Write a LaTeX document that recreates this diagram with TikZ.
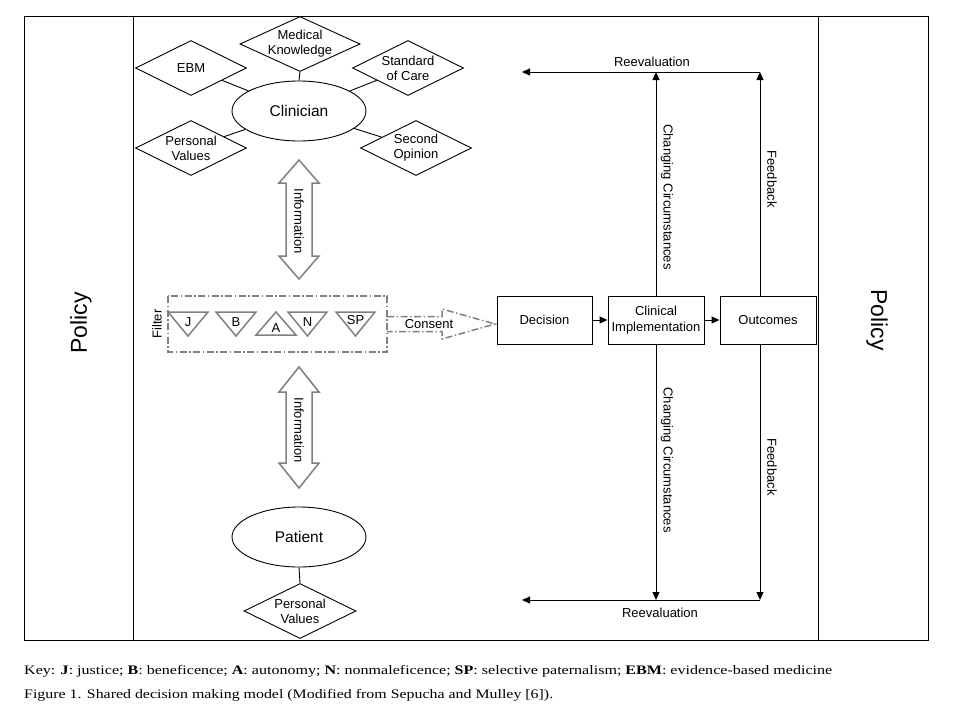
\documentclass[tikz,border=0pt]{standalone}
\usepackage{fontspec}
\setmainfont{Liberation Sans}
\newfontfamily\capfont{Liberation Serif}
\usetikzlibrary{shapes.geometric,arrows.meta}
\definecolor{shade}{HTML}{808080}
\tikzset{
  frame/.style={draw=black,line width=1pt},
  dia/.style={draw=black,line width=0.9pt,diamond,inner sep=0pt,fill=white},
  diatext/.style={font=\fontsize{13}{15}\selectfont,align=center,inner sep=0pt},
  oval/.style={draw=black,line width=0.9pt,ellipse,minimum width=134pt,minimum height=60pt,inner sep=0pt,font=\fontsize{15.5}{18}\selectfont},
  stepbox/.style={draw=black,line width=0.9pt,rectangle,minimum height=48pt,inner sep=0pt,font=\fontsize{13}{15.5}\selectfont,align=center},
  conn/.style={draw=black,line width=0.9pt},
  arr/.style={draw=black,line width=0.9pt,-{Triangle[length=8pt,width=7pt]}},
  lbl/.style={font=\fontsize{13}{15.5}\selectfont,inner sep=0pt},
  infoarrow/.style={draw=shade,line width=1.5pt,fill=white,line join=miter},
  dashdot/.style={draw=shade,line width=1.5pt,dash pattern=on 7pt off 2.5pt on 1.5pt off 2.5pt},
  tri/.style={draw=shade,line width=1.5pt,line join=miter},
}
\begin{document}
\begin{tikzpicture}[x=1pt,y=-1pt]
\useasboundingbox (0,0) rectangle (960,720);
% frame
\draw[frame] (24,16) rectangle (928,640);
\coordinate (lt) at (133,16); \coordinate (lb) at (133,640);
\coordinate (rt) at (818,16); \coordinate (rb) at (818,640);
\draw[frame] (lt) -- (lb);
\draw[frame] (rt) -- (rb);
\node[font=\fontsize{23}{26}\selectfont,rotate=90,inner sep=0pt] (polL) at (81,323) {Policy};
\node[font=\fontsize{23}{26}\selectfont,rotate=-90,inner sep=0pt] (polR) at (877,320) {Policy};

% clinician cluster
\node[oval] (clin) at (299,111) {Clinician};
\node[dia,minimum width=120pt,minimum height=55pt] (mk) at (300,44) {};
\node[dia,minimum width=111pt,minimum height=55pt] (ebm) at (191,68) {};
\node[dia,minimum width=111pt,minimum height=55pt] (soc) at (408,68) {};
\node[dia,minimum width=111pt,minimum height=55pt] (pv) at (191,148) {};
\node[dia,minimum width=111pt,minimum height=55pt] (so) at (416,148) {};
\node[diatext] (mkt) at (mk) {Medical\\Knowledge};
\node[diatext] (ebmt) at (ebm) {EBM};
\node[diatext] (soct) at (soc) {Standard\\of Care};
\node[diatext] (pvt) at (pv) {Personal\\Values};
\node[diatext] (sot) at (so) {Second\\Opinion};
\draw[conn] (mk.south) -- (clin.north);
\draw[conn] (ebm) -- (clin);
\draw[conn] (soc) -- (clin);
\draw[conn] (pv) -- (clin);
\draw[conn] (so) -- (clin);

% information arrows
\draw[infoarrow] (299,160) -- (319,183) -- (312,183) -- (312,256) -- (319,256) -- (299,279)
  -- (279,256) -- (286,256) -- (286,183) -- (279,183) -- cycle;
\node[lbl,rotate=-90] (info1) at (299,221) {Information};
\draw[infoarrow] (299,367) -- (319,392) -- (312,392) -- (312,463) -- (319,463) -- (299,488)
  -- (279,463) -- (286,463) -- (286,392) -- (279,392) -- cycle;
\node[lbl,rotate=-90] (info2) at (299,430) {Information};

% filter
\draw[dashdot] (168,296) rectangle (387,352);
\node[lbl,rotate=90] (filt) at (157,324) {Filter};
\draw[tri] (168,312) -- (208,312) -- (188,336) -- cycle;
\draw[tri] (216,312) -- (256,312) -- (236,336) -- cycle;
\draw[tri] (256,335) -- (296,335) -- (276,312) -- cycle;
\draw[tri] (288,312) -- (327,312) -- (307.5,336) -- cycle;
\draw[tri] (336,312) -- (375,312) -- (355.5,336) -- cycle;
\node[lbl] (tJ) at (188,322) {J};
\node[lbl] (tB) at (236,322) {B};
\node[lbl] (tA) at (276,328) {A};
\node[lbl] (tN) at (307.5,322) {N};
\node[lbl] (tSP) at (355.5,320) {SP};

% consent arrow
\draw[dashdot] (387,316.5) -- (442,316.5) -- (442,309) -- (495,324) -- (442,339) -- (442,331.5) -- (387,331.5);
\node[lbl] (cons) at (429,324) {Consent};

% boxes
\node[stepbox,minimum width=95pt] (dec) at (544.5,320) {Decision};
\node[stepbox,minimum width=96pt] (clim) at (656,320) {Clinical\\Implementation};
\node[stepbox,minimum width=96pt] (out) at (768,320) {Outcomes};
\draw[arr] (dec) -- (clim);
\draw[arr] (clim) -- (out);

% top loop
\coordinate (t1) at (656,72);
\coordinate (t2) at (760,72);
\coordinate (tL) at (522,72);
\draw[arr] (clim.north) -- (t1);
\draw[arr] (t2 |- out.north) -- (t2);
\draw[arr] (t2) -- (tL);
\node[lbl] (re1) at (652,62) {Reevaluation};
\node[lbl,rotate=-90] (cc1) at (667,197) {Changing Circumstances};
\node[lbl,rotate=-90] (fb1) at (772,179) {Feedback};

% bottom loop
\coordinate (b1) at (656,600);
\coordinate (b2) at (760,600);
\coordinate (bL) at (522,600);
\draw[arr] (clim.south) -- (b1);
\draw[arr] (t2 |- out.south) -- (b2);
\draw[arr] (b2) -- (bL);
\node[lbl] (re2) at (660,613) {Reevaluation};
\node[lbl,rotate=-90] (cc2) at (667,460) {Changing Circumstances};
\node[lbl,rotate=-90] (fb2) at (772,467) {Feedback};

% patient
\node[oval] (pat) at (299,537) {Patient};
\node[dia,minimum width=112pt,minimum height=55pt] (ppv) at (300,611) {};
\node[diatext] (ppvt) at (ppv) {Personal\\Values};
\draw[conn] (pat.south) -- (ppv.north);

% caption
\node[anchor=base west,inner sep=0pt,font=\capfont\fontsize{13}{15}\selectfont] (key) at (24,674.5)
  {\resizebox{808pt}{\height}{Key: \textbf{J}: justice; \textbf{B}: beneficence; \textbf{A}: autonomy; \textbf{N}: nonmaleficence; \textbf{SP}: selective paternalism; \textbf{EBM}: evidence-based medicine}};
\node[anchor=base west,inner sep=0pt,font=\capfont\fontsize{13}{15}\selectfont] (fig) at (24,698.5)
  {\resizebox{529pt}{\height}{Figure 1. Shared decision making model (Modified from Sepucha and Mulley [6]).}};
\end{tikzpicture}
\end{document}
